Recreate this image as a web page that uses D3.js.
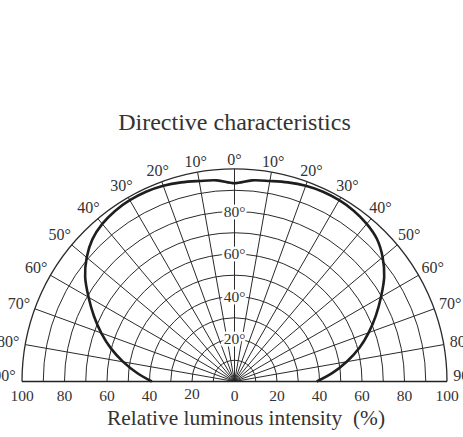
<!DOCTYPE html>
<html>
<head>
<meta charset="utf-8">
<script src="https://cdn.jsdelivr.net/npm/d3@7"></script>
<style>
  body { margin: 0; background: #fff; }
  text { font-family: "Liberation Serif", "Times New Roman", serif; fill: #333; }
</style>
</head>
<body>
<script>
// directive characteristics, polar half plot

var width = 463;
var height = 437;

// angle (deg) from the axis, and relative intensity (%)
var angles = [0, 5, 10, 15, 20, 25, 30, 35, 40, 45, 50, 55, 60, 65, 70, 75, 80, 85, 90];
var leftValues = [93.3, 95, 95.8, 97, 98, 98.5, 98.5, 98, 96.8, 94.6, 90.8, 85.8, 79.3, 73, 66.7, 60.2, 53.2, 46, 38.9];
var rightValues = [93.3, 95, 95.8, 97, 98, 98.5, 98.5, 98, 96.8, 94.8, 91, 86, 79.6, 73.4, 67.2, 60.8, 53.6, 46.3, 38.7];

var gridAngles = [-90, -80, -70, -60, -50, -40, -30, -20, -10, 0, 10, 20, 30, 40, 50, 60, 70, 80, 90];
var gridRings = [10, 20, 30, 40, 50, 60, 70, 80, 90, 100];
var ringLabels = [20, 40, 60, 80];
var bottomTicks = [-100, -80, -60, -40, -20, 0, 20, 40, 60, 80, 100];

var cx = 234.5, cy = 381.5, R = 212.5;

var svg = d3.select("body")
  .append("svg")
    .attr("width", width)
    .attr("height", height);

var r = d3.scaleLinear().domain([0, 100]).range([0, R]);
var x = d3.scaleLinear().domain([-100, 100]).range([cx - R, cx + R]);
var rad = function(deg) { return deg * Math.PI / 180; };

var g = svg.append("g")
  .attr("transform", "translate(" + cx + "," + cy + ")");

// rings
g.selectAll(".ring")
  .data(gridRings)
  .enter()
  .append("path")
    .attr("class", "ring")
    .attr("d", function(d) {
      var p = d3.path();
      p.arc(0, 0, r(d), Math.PI, 2 * Math.PI);
      return p.toString();
    })
    .attr("fill", "none")
    .attr("stroke", "#2a2a2a")
    .attr("stroke-width", function(d) { return d === 100 ? 1.3 : 1; });

// spokes
g.selectAll(".spoke")
  .data(gridAngles)
  .enter()
  .append("line")
    .attr("class", "spoke")
    .attr("x1", 0)
    .attr("y1", 0)
    .attr("x2", function(d) { return r(100) * Math.sin(rad(d)); })
    .attr("y2", function(d) { return -r(100) * Math.cos(rad(d)); })
    .attr("stroke", "#2a2a2a")
    .attr("stroke-width", 1);

// base line
svg.append("line")
  .attr("x1", x(-100))
  .attr("x2", x(100))
  .attr("y1", cy)
  .attr("y2", cy)
  .attr("stroke", "#222")
  .attr("stroke-width", 1.5);

// curve
var points = [];
angles.forEach(function(a, i) {
  if (a > 0) points.push({ a: -a, v: leftValues[i] });
});
points.reverse();
angles.forEach(function(a, i) {
  points.push({ a: a, v: rightValues[i] });
});

var line = d3.lineRadial()
  .angle(function(d) { return rad(d.a); })
  .radius(function(d) { return r(d.v); })
  .curve(d3.curveCatmullRom);

g.append("path")
  .datum(points)
  .attr("d", line)
  .attr("fill", "none")
  .attr("stroke", "#1e1e1e")
  .attr("stroke-width", 2.6);

// ring labels on the axis
g.selectAll(".ringLabel")
  .data(ringLabels)
  .enter()
  .append("text")
    .attr("class", "ringLabel")
    .attr("x", 0)
    .attr("y", function(d) { return -r(d); })
    .attr("dy", "0.33em")
    .attr("text-anchor", "middle")
    .style("font-size", "15.5px")
    .style("stroke", "#fff")
    .style("stroke-width", 5)
    .style("paint-order", "stroke")
    .text(function(d) { return d + "°"; });

// angle labels
var labelR = function(d) { return 222 + 8 * Math.abs(Math.sin(rad(d))); };

g.selectAll(".angleLabel")
  .data(gridAngles)
  .enter()
  .append("text")
    .attr("class", "angleLabel")
    .attr("x", function(d) { return labelR(d) * Math.sin(rad(d)); })
    .attr("y", function(d) {
      var y = -labelR(d) * Math.cos(rad(d));
      return Math.abs(d) === 90 ? y - 6 : y;
    })
    .attr("dy", "0.35em")
    .attr("text-anchor", "middle")
    .style("font-size", "16px")
    .text(function(d) { return Math.abs(d) + "°"; });

// bottom scale
svg.selectAll(".tick")
  .data(bottomTicks)
  .enter()
  .append("text")
    .attr("class", "tick")
    .attr("x", function(d) { return x(d); })
    .attr("y", function(d) { return d === -20 ? 398.5 : 400.5; })
    .attr("text-anchor", "middle")
    .style("font-size", "15.5px")
    .text(function(d) { return Math.abs(d); });

svg.append("text")
  .attr("x", cx)
  .attr("y", 129.5)
  .attr("text-anchor", "middle")
  .style("font-size", "24px")
  .text("Directive characteristics");

svg.append("text")
  .attr("x", 246)
  .attr("y", 425)
  .attr("text-anchor", "middle")
  .style("font-size", "21.4px")
  .style("white-space", "pre")
  .text("Relative luminous intensity  (%)");
</script>
</body>
</html>
